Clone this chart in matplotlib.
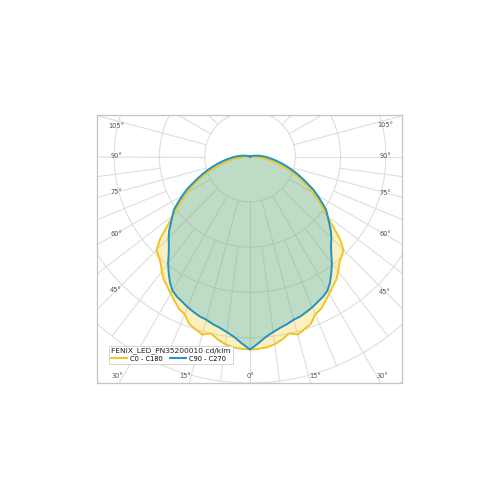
import matplotlib.pyplot as plt
import numpy as np

# light distribution, gamma angle in degrees, intensity in cd/klm
gamma = [0, 2.5, 5, 7.5, 10, 12.5, 15, 17.5, 20, 22.5, 25, 27.5, 30, 32.5, 35, 37.5,
         40, 42.5, 45, 47.5, 50, 52.5, 55, 57.5, 60, 62.5, 65, 67.5, 70, 72.5, 75,
         77.5, 80, 82.5, 85, 87.5, 90, 95, 100, 105, 110, 180]
c0_c180 = [426, 425, 423, 418, 410, 400, 407, 400, 393, 377, 371, 360, 350, 340, 332, 320,
           307, 299, 292, 269, 238, 214, 196, 179, 161, 146, 129, 113, 97, 82, 66,
           53, 42, 31, 20, 11, 4, 1, 0, 0, 0, 0]
c90_c270 = [426, 413, 400, 391, 384, 379, 373, 370, 365, 360, 354, 349, 342, 329, 313, 297,
            279, 265, 254, 242, 228, 216, 205, 188, 172, 157, 139, 124, 110, 97, 84,
            73, 62, 53, 44, 38, 31, 20, 11, 4, 0, 0]
series_names = ['C0 - C180', 'C90 - C270']
legend_title = 'FENIX_LED_PN35200010 cd/klm'
grid_radii = [100, 200, 300, 400, 500, 600, 700]
label_angles = [0, 15, 30, 45, 60, 75, 90, 105]

line_colors = ['#f0c424', '#1f93c4']
fill_colors = ['#f5c81e', '#1eaad2']

px = 0.453  # pixels per cd/klm
fig = plt.figure(figsize=(5, 5), dpi=100)
ax = fig.add_axes([97 / 500, 117 / 500, 305 / 500, 268 / 500])
x0, x1 = -153 / px, 152 / px
y0, y1 = -226.5 / px, 41.5 / px
ax.set_xlim(x0, x1)
ax.set_ylim(y0, y1)
ax.set_xticks([])
ax.set_yticks([])
for s in ax.spines.values():
    s.set_color('#c4c4c4')
    s.set_linewidth(0.9)


def to_xy(theta_deg, r):
    t = np.radians(theta_deg)
    return np.asarray(r) * np.sin(t), -np.asarray(r) * np.cos(t)


# grid circles
t = np.linspace(0, 360, 361)
for r in grid_radii:
    x, y = to_xy(t, np.full_like(t, r))
    ax.plot(x, y, color='#dedede', lw=0.8, zorder=1)

# spokes, every 15 deg from the first ring, finer ones further in
for a in np.arange(0, 360, 15):
    x, y = to_xy(np.array([a, a]), np.array([100, 900]))
    ax.plot(x, y, color='#dedede', lw=0.8, zorder=1)
for a in np.arange(-82.5, 90, 15):
    x, y = to_xy(np.array([a, a]), np.array([200, 500]))
    ax.plot(x, y, color='#dedede', lw=0.8, zorder=1)

# curves
g = np.array(gamma, dtype=float)
handles = []
for vals, lc, fc, name in zip([c0_c180, c90_c270], line_colors, fill_colors, series_names):
    v = np.array(vals, dtype=float)
    theta = np.concatenate([-g[::-1], g[1:]])
    rr = np.concatenate([v[::-1], v[1:]])
    x, y = to_xy(theta, rr)
    ax.fill(x, y, color=fc, alpha=0.28, lw=0, zorder=2)
    handles.append(ax.plot(x, y, color=lc, lw=1.4, zorder=3, label=name)[0])

# angle labels
xl = x0 + 19 / px
xr = x1 - 17 / px
yb = y0 + 7 / px
for a in label_angles:
    for side in (-1, 1):
        if a == 0 and side == 1:
            continue
        rad = np.radians(a)
        if a >= 45:
            xx = xl if side < 0 else xr
            if a < 90:
                yy = -abs(xx) / np.tan(rad)
            elif a == 90:
                yy = 0
            else:
                yy = abs(xx) * np.tan(np.radians(a - 90)) - 5 / px
            ha = 'center'
        else:
            yy = yb
            xx = side * abs(yy) * np.tan(rad)
            ha = 'center' if a == 0 else ('right' if side < 0 else 'left')
        ax.text(xx, yy, f'{a}°', fontsize=4.8, color='#555555', ha=ha, va='center', zorder=5)

leg = ax.legend(handles=handles, title=legend_title, ncol=2, loc='lower left',
                bbox_to_anchor=(0.03, 0.06), fontsize=4.8, title_fontsize=5.4,
                frameon=True, fancybox=False, edgecolor='#cccccc', framealpha=1,
                handlelength=2.4, handletextpad=0.4, columnspacing=1.1,
                borderpad=0.3, labelspacing=0.2, alignment='left')
leg.get_frame().set_linewidth(0.6)
leg.get_title().set_color('#222222')
leg.set_zorder(6)

fig.savefig('out.png', dpi=100, facecolor='white')
